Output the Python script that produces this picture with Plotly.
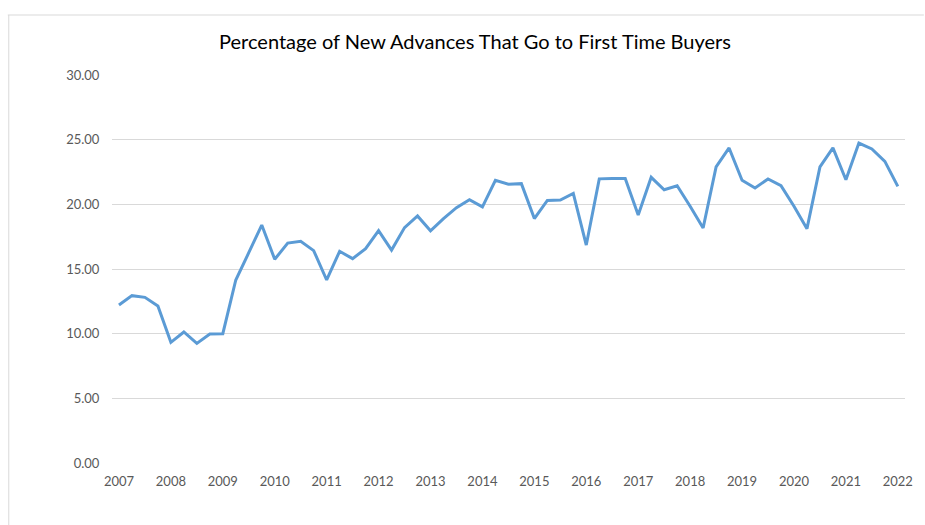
import plotly.graph_objects as go

years = [2007 + 0.25 * i for i in range(61)]
values = [
    12.22, 12.94, 12.81, 12.14, 9.33, 10.13, 9.25, 9.97, 10.0, 14.15,
    16.26, 18.4, 15.75, 17.0, 17.14, 16.42, 14.15, 16.37, 15.8, 16.57,
    17.97, 16.46, 18.2, 19.1, 17.95, 18.9, 19.74, 20.36, 19.8, 21.85,
    21.56, 21.6, 18.9, 20.3, 20.33, 20.85, 16.85, 21.97, 22.0, 22.0,
    19.18, 22.09, 21.13, 21.44, 19.85, 18.17, 22.89, 24.36, 21.86, 21.26,
    21.96, 21.44, 19.85, 18.12, 22.89, 24.36, 21.9, 24.74, 24.28, 23.32,
    21.39,
]
x_ticks = list(range(2007, 2023))
y_ticks = [0, 5, 10, 15, 20, 25, 30]
title_text = "Percentage of New Advances That Go to First Time Buyers"

W, H = 925, 525
ml, mr, mt, mb = 112, 14, 75, 62
pw = W - ml - mr
ph = H - mt - mb

def px_x(p):
    return (p - ml) / pw

def px_y(p):
    return (H - mb - p) / ph

fig = go.Figure()
fig.add_trace(go.Scatter(
    x=years, y=values, mode="lines",
    line=dict(color="#5B9BD5", width=3, shape="linear"),
    hoverinfo="x+y", showlegend=False,
))

fig.update_layout(
    width=W, height=H,
    margin=dict(l=ml, r=mr, t=mt, b=mb, pad=0),
    paper_bgcolor="white", plot_bgcolor="white",
    font=dict(family="Lato, Open Sans, sans-serif", color="#595959", size=13),
    title=dict(text=title_text, x=475 / W, xref="container", xanchor="center",
               y=1 - 42 / H, yref="container", yanchor="middle",
               font=dict(family="Lato, Open Sans, sans-serif", size=20, color="#000000")),
    xaxis=dict(
        range=[2007 - 0.134, 2022 + 0.138],
        tickmode="array", tickvals=x_ticks, ticktext=[str(v) for v in x_ticks],
        showgrid=False, zeroline=False, showline=False,
        ticks="outside", ticklen=6, tickcolor="rgba(0,0,0,0)",
        tickfont=dict(size=13, color="#595959"),
    ),
    yaxis=dict(
        range=[0, 30],
        tickmode="array", tickvals=y_ticks, ticktext=[f"{v:.2f}" for v in y_ticks],
        showgrid=True, gridcolor="#D9D9D9", gridwidth=1,
        zeroline=False, showline=False,
        ticks="outside", ticklen=9, tickcolor="rgba(0,0,0,0)",
        tickfont=dict(size=13, color="#595959"),
    ),
    shapes=[
        dict(type="line", xref="paper", yref="paper",
             x0=px_x(7), x1=px_x(930), y0=px_y(15), y1=px_y(15),
             line=dict(color="#D9D9D9", width=1)),
        dict(type="line", xref="paper", yref="paper",
             x0=px_x(8), x1=px_x(8), y0=px_y(15), y1=px_y(530),
             line=dict(color="#D9D9D9", width=1)),
    ],
)

fig.write_html("out.html")
